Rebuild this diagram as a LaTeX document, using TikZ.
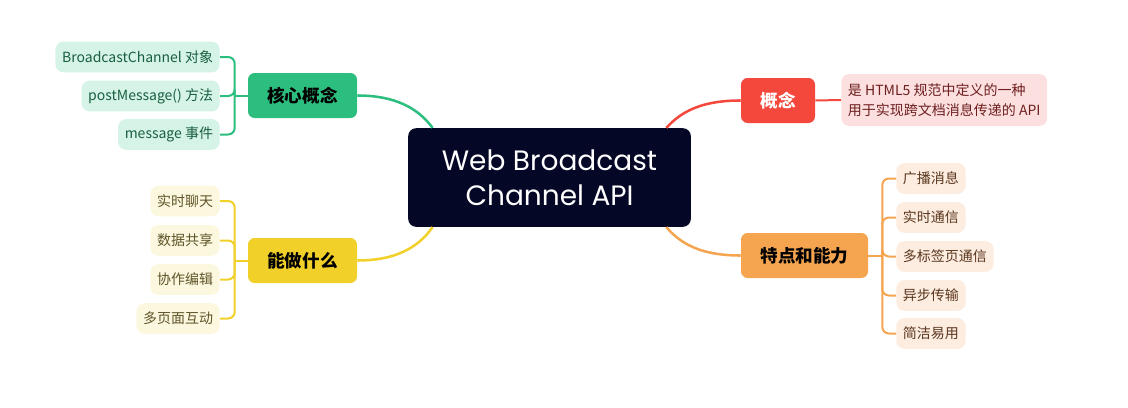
\documentclass[tikz,border=0pt]{standalone}
\usepackage{fontspec}
\setmainfont{Noto Sans CJK SC}
\newfontfamily\titlefont{Poppins}
\usetikzlibrary{calc}

\definecolor{hubfill}{RGB}{4,7,38}
\definecolor{kgreen}{RGB}{44,190,126}
\definecolor{kgreenlt}{RGB}{213,243,230}
\definecolor{kgreentx}{RGB}{25,95,65}
\definecolor{kyellow}{RGB}{241,208,42}
\definecolor{kyellowlt}{RGB}{252,248,224}
\definecolor{kyellowtx}{RGB}{95,85,40}
\definecolor{kred}{RGB}{245,72,60}
\definecolor{kredlt}{RGB}{252,224,224}
\definecolor{kredtx}{RGB}{110,30,30}
\definecolor{korange}{RGB}{245,165,80}
\definecolor{korangelt}{RGB}{253,236,224}
\definecolor{korangetx}{RGB}{90,55,30}

\begin{document}
\begin{tikzpicture}[x=0.75pt,y=0.75pt,yscale=-1,xscale=1,
  topic/.style={rounded corners=5pt,minimum height=33.75pt,inner sep=0pt,
    font=\fontsize{13.2}{15}\selectfont\bfseries},
  leaf/.style={rounded corners=6pt,minimum height=23pt,inner xsep=5pt,inner ysep=0pt,
    font=\fontsize{10.5}{12}\selectfont},
  branch/.style={line width=1.9pt},
  twig/.style={line width=1.5pt,rounded corners=5pt}]
\useasboundingbox (0,0) rectangle (1128,407);

% Text Node
\draw (549.5,177.5) node [fill=hubfill,rounded corners=6pt,minimum width=212pt,minimum height=74pt,
  text=white,align=center,font=\titlefont\fontsize{21}{26}\selectfont] (hub) {Web Broadcast\\Channel API};

% Text Node
\draw (302.5,95.5) node [topic,fill=kgreen,minimum width=81.75pt] (core) {核心概念};
% Text Node
\draw (302.5,260.5) node [topic,fill=kyellow,minimum width=81.75pt] (uses) {能做什么};
% Text Node
\draw (778,100.5) node [topic,fill=kred,text=white,minimum width=55.5pt] (idea) {概念};
% Text Node
\draw (804.5,255.5) node [topic,fill=korange,minimum width=95.25pt] (feat) {特点和能力};

% Text Node
\draw (220,57) node [leaf,anchor=east,fill=kgreenlt,text=kgreentx] (core1) {BroadcastChannel 对象};
% Text Node
\draw (220,96) node [leaf,anchor=east,fill=kgreenlt,text=kgreentx] (core2) {postMessage() 方法};
% Text Node
\draw (220,134.5) node [leaf,anchor=east,fill=kgreenlt,text=kgreentx] (core3) {message 事件};

% Text Node
\draw (220,201) node [leaf,anchor=east,fill=kyellowlt,text=kyellowtx] (uses1) {实时聊天};
% Text Node
\draw (220,240.5) node [leaf,anchor=east,fill=kyellowlt,text=kyellowtx] (uses2) {数据共享};
% Text Node
\draw (220,279.5) node [leaf,anchor=east,fill=kyellowlt,text=kyellowtx] (uses3) {协作编辑};
% Text Node
\draw (220,318.5) node [leaf,anchor=east,fill=kyellowlt,text=kyellowtx] (uses4) {多页面互动};

% Text Node
\draw (841,100) node [leaf,anchor=west,fill=kredlt,text=kredtx,minimum height=39pt,align=left,
  font=\fontsize{10.5}{15}\selectfont] (idea1) {是 HTML5 规范中定义的一种\\用于实现跨文档消息传递的 API};

% Text Node
\draw (896,178.5) node [leaf,anchor=west,fill=korangelt,text=korangetx] (feat1) {广播消息};
% Text Node
\draw (896,217.5) node [leaf,anchor=west,fill=korangelt,text=korangetx] (feat2) {实时通信};
% Text Node
\draw (896,256.5) node [leaf,anchor=west,fill=korangelt,text=korangetx] (feat3) {多标签页通信};
% Text Node
\draw (896,295.5) node [leaf,anchor=west,fill=korangelt,text=korangetx] (feat4) {异步传输};
% Text Node
\draw (896,333.5) node [leaf,anchor=west,fill=korangelt,text=korangetx] (feat5) {简洁易用};

%Curve Lines
\draw [branch,color=kgreen] (hub.157) .. controls (418,108) and (395,95.5) .. (core.east);
%Curve Lines
\draw [branch,color=kred] (hub.23) .. controls (684,108) and (708,100.5) .. (idea.west);
%Curve Lines
\draw [branch,color=kyellow] (hub.203) .. controls (418,248) and (395,260.5) .. (uses.east);
%Curve Lines
\draw [branch,color=korange] (hub.337) .. controls (684,248) and (708,255.5) .. (feat.west);

% brackets
\coordinate (corej) at ($(core.west)+(-13,0)$);
\draw [twig,color=kgreen] (core.west) -- (corej);
\foreach \k in {1,2,3} \draw [twig,color=kgreen] (corej) |- (core\k.east);

\coordinate (usesj) at ($(uses.west)+(-13,0)$);
\draw [twig,color=kyellow] (uses.west) -- (usesj);
\foreach \k in {1,2,3,4} \draw [twig,color=kyellow] (usesj) |- (uses\k.east);

\draw [twig,color=kred] (idea.east) -- (idea1.west);

\coordinate (featj) at ($(feat.east)+(14,0)$);
\draw [twig,color=korange] (feat.east) -- (featj);
\foreach \k in {1,...,5} \draw [twig,color=korange] (featj) |- (feat\k.west);

\end{tikzpicture}
\end{document}
